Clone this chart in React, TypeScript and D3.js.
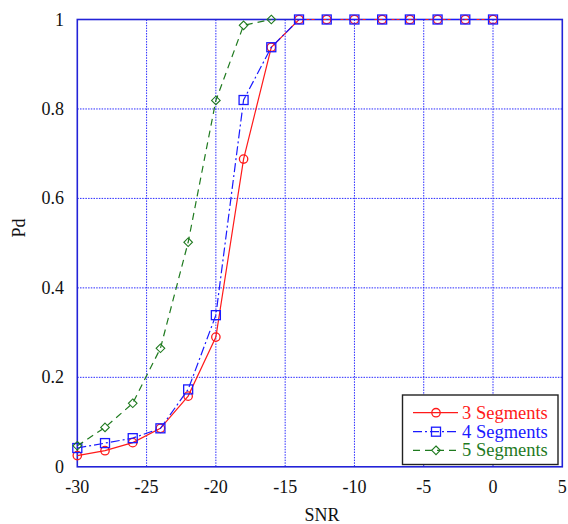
import React from "react";
import * as d3 from "d3";

const snr = [-30, -28, -26, -24, -22, -20, -18, -16, -14, -12, -10, -8, -6, -4, -2, 0];
const seg3 = [0.025, 0.036, 0.054, 0.086, 0.158, 0.29, 0.688, 0.938, 1, 1, 1, 1, 1, 1, 1, 1];
const seg4 = [0.042, 0.053, 0.064, 0.086, 0.173, 0.339, 0.82, 0.938, 1, 1, 1, 1, 1, 1, 1, 1];
const seg5 = [0.047, 0.088, 0.142, 0.265, 0.502, 0.819, 0.987, 1, null, null, null, null, null, null, null, null];
const xTicks = [-30, -25, -20, -15, -10, -5, 0, 5];
const yTicks = [0, 0.2, 0.4, 0.6, 0.8, 1];
const yTickLabels = ["0", "0.2", "0.4", "0.6", "0.8", "1"];
const seriesNames = ["3 Segments", "4 Segments", "5 Segments"];

const W = 568, H = 524;
const L = 77.3, R = 562.3, T = 19.5, B = 466.8;
const AXIS = "#2323d8";
const GRID = "#2a2aff";
const FONT = "Liberation Serif, Times New Roman, Times, serif";

const series = [
  { name: seriesNames[0], vals: seg3, color: "#ff1a1a", dash: undefined, marker: "circle" },
  { name: seriesNames[1], vals: seg4, color: "#1a1aff", dash: "9,3,2,3", marker: "square" },
  { name: seriesNames[2], vals: seg5, color: "#1f7a1f", dash: "7,5", marker: "diamond" },
];

function Marker({ type, x, y, color }: { type: string; x: number; y: number; color: string }) {
  if (type === "circle") return <circle cx={x} cy={y} r={4.2} fill="none" stroke={color} strokeWidth={1.3} />;
  if (type === "square") return <rect x={x - 4.5} y={y - 4.5} width={9} height={9} fill="none" stroke={color} strokeWidth={1.3} />;
  const s = 4.3;
  return <path d={`M${x},${y - s}L${x + s},${y}L${x},${y + s}L${x - s},${y}Z`} fill="none" stroke={color} strokeWidth={1.1} />;
}

const txt = { fontFamily: FONT };

export default function App() {
  const x = d3.scaleLinear().domain([-30, 5]).range([L, R]);
  const y = d3.scaleLinear().domain([0, 1]).range([B, T]);

  const legX = 402.5, legY = 395, legW = 155.5, legH = 69.5;
  const rows = [412.7, 431.7, 450.3];

  return (
    <svg width={W} height={H} style={{ position: "absolute", left: 0, top: 0, background: "#fff" }}>
      <rect x={0} y={0} width={W} height={H} fill="#fff" />
      {xTicks.slice(1, -1).map((t) => (
        <line key={"gx" + t} x1={x(t)} x2={x(t)} y1={T} y2={B} stroke={GRID} strokeWidth={1} strokeDasharray="1.5,1.2" />
      ))}
      {yTicks.slice(1, -1).map((t) => (
        <line key={"gy" + t} x1={L} x2={R} y1={y(t)} y2={y(t)} stroke={GRID} strokeWidth={1} strokeDasharray="1.5,1.2" />
      ))}
      <rect x={L} y={T} width={R - L} height={B - T} fill="none" stroke={AXIS} strokeWidth={1.6} />
      {series.map((s) => {
        const pts = snr.map((v, i) => [v, s.vals[i]] as [number, number | null]).filter((p) => p[1] !== null) as [number, number][];
        const line = d3.line<[number, number]>().x((d) => x(d[0])).y((d) => y(d[1]));
        return (
          <g key={s.name}>
            <path d={line(pts) || ""} fill="none" stroke={s.color} strokeWidth={1.2} strokeDasharray={s.dash} />
            {pts.map((p, i) => (
              <Marker key={i} type={s.marker} x={x(p[0])} y={y(p[1])} color={s.color} />
            ))}
          </g>
        );
      })}
      {xTicks.map((t) => (
        <text key={"tx" + t} x={x(t)} y={493} textAnchor="middle" style={txt} fontSize={18} fill="#111">
          {t}
        </text>
      ))}
      {yTicks.map((t, i) => (
        <text key={"ty" + t} x={64} y={y(t) + 6} textAnchor="end" style={txt} fontSize={18} fill="#111">
          {yTickLabels[i]}
        </text>
      ))}
      <text x={322} y={521} textAnchor="middle" style={txt} fontSize={18} fill="#111">SNR</text>
      <text transform={`translate(25,228) rotate(-90)`} textAnchor="middle" style={txt} fontSize={18} fill="#111">Pd</text>
      <rect x={legX} y={legY} width={legW} height={legH} fill="#fff" stroke="#222" strokeWidth={1.4} />
      {series.map((s, i) => (
        <g key={"lg" + s.name}>
          <line x1={413} x2={458} y1={rows[i]} y2={rows[i]} stroke={s.color} strokeWidth={1.2} strokeDasharray={s.dash} />
          <Marker type={s.marker} x={436} y={rows[i]} color={s.color} />
          <text x={462} y={rows[i] + 6} style={txt} fontSize={18.5} fill={s.color}>
            {s.name}
          </text>
        </g>
      ))}
    </svg>
  );
}
